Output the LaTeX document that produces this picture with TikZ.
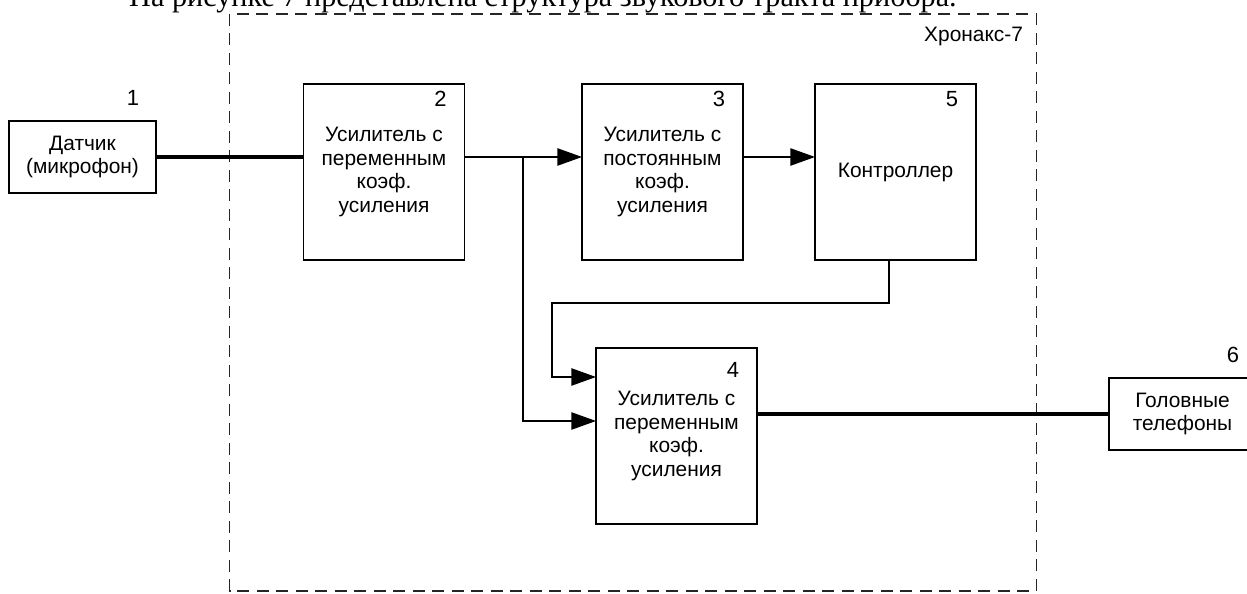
\documentclass[tikz,border=0pt]{standalone}
\usepackage{fontspec}
\setmainfont{Liberation Serif}
\setsansfont{Liberation Sans}
\usetikzlibrary{arrows.meta,calc}

\begin{document}
\begin{tikzpicture}[x=0.02cm, y=-0.02cm,
    blk/.style={outer sep=0, inner sep=0, draw, line width=1pt, align=center, font=\sffamily\fontsize{11.9}{13.3}\selectfont},
    num/.style={outer sep=0, inner sep=0, font=\sffamily\fontsize{12.5}{13.3}\selectfont},
    sig/.style={line width=0.95pt, -{Triangle[length=14pt, width=9.8pt]}},
    bus/.style={line width=2.8pt},
    frm/.style={line width=1.1pt, black!85, dash pattern=on 0.24cm off 0.15cm}]
        \useasboundingbox (0,0) rectangle (1247,594);
        % caption line cut by the top edge
        \draw (543,7) node[anchor=base, outer sep=0, inner sep=0, font=\fontsize{17.2}{18}\selectfont] (caption) {На рисунке 7 представлена структура звукового тракта прибора.};
        % device frame
        \draw[frm] (229.5,14) rectangle (1036.5,591);
        \draw (1023,36) node[anchor=east, outer sep=0, inner sep=0, font=\sffamily\fontsize{11.9}{13.3}\selectfont] (chronax) {Хронакс-7};
        % blocks
        \draw (82.5,157) node[blk, minimum width=2.94cm, minimum height=1.44cm] (sensor) {Датчик\\(микрофон)};
        \draw (384,172) node[blk, minimum width=3.22cm, minimum height=3.52cm] (vamp) {Усилитель с\\переменным\\коэф.\\усиления};
        \draw (662.5,172) node[blk, minimum width=3.22cm, minimum height=3.52cm] (camp) {Усилитель с\\постоянным\\коэф.\\усиления};
        \draw (895.5,172) node[blk, minimum width=3.22cm, minimum height=3.52cm] (ctrl) {Контроллер};
        \draw (676.5,436) node[blk, minimum width=3.22cm, minimum height=3.52cm] (vampout) {Усилитель с\\переменным\\коэф.\\усиления};
        \draw (1182.5,414) node[blk, minimum width=2.94cm, minimum height=1.44cm] (phones) {Головные\\телефоны};
        % block numbers
        \draw (133,98) node[num] (n1) {1};
        \draw ($(vamp.north east)+(-24,15)$) node[num] (n2) {2};
        \draw ($(camp.north east)+(-24,15)$) node[num] (n3) {3};
        \draw ($(vampout.north east)+(-24,22)$) node[num] (n4) {4};
        \draw ($(ctrl.north east)+(-24,15)$) node[num] (n5) {5};
        \draw (1233,355) node[num] (n6) {6};
        % connections
        \coordinate (split) at (523,157);
        \coordinate (fb) at (889,303);
        \coordinate (fbturn) at (552,303);
        \coordinate (in4a) at (596,377);
        \coordinate (in4b) at (596,421);
        \draw[bus] (sensor.east) -- (sensor.east -| vamp.west);
        \draw[sig] (vamp.east |- split) -- (camp.west |- split);
        \draw[sig] (split) |- (in4b);
        \draw[sig] (camp.east |- split) -- (ctrl.west |- split);
        \draw[sig] (ctrl.south -| fb) |- (fbturn) |- (in4a);
        \draw[bus] (vampout.east |- phones.west) -- (phones.west);
      \end{tikzpicture}
\end{document}
